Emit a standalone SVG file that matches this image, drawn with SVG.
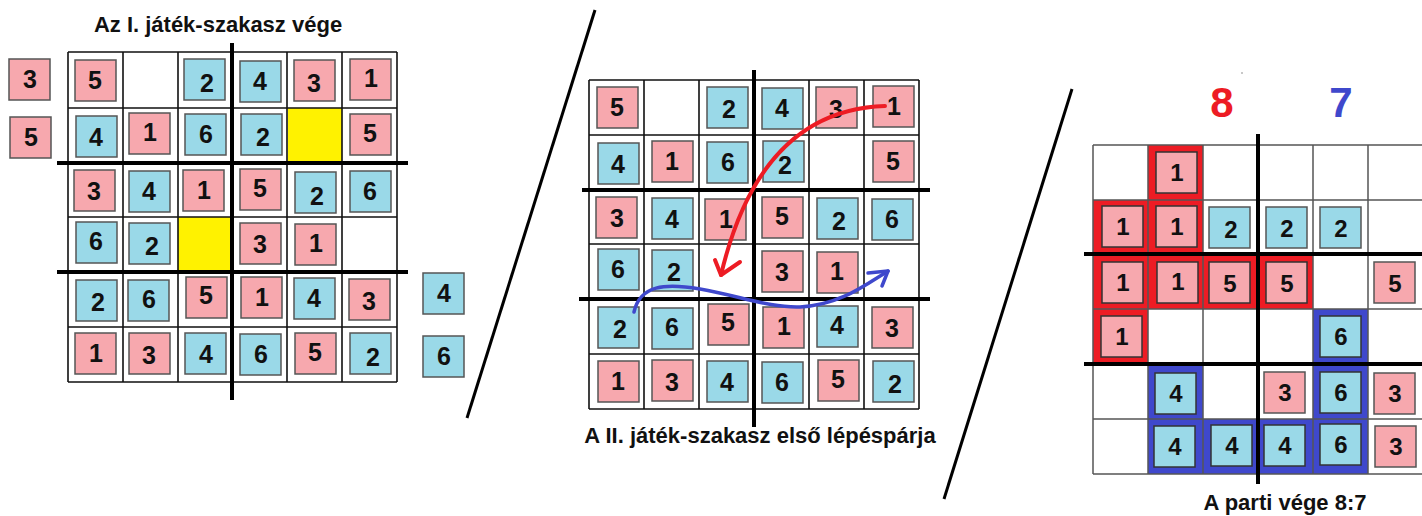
<svg xmlns="http://www.w3.org/2000/svg" width="1422" height="516" viewBox="0 0 1422 516">
<style>
.p{fill:#F7A8AE;stroke:#555;stroke-width:1.5}
.b{fill:#9AD9E8;stroke:#555;stroke-width:1.5}
.n{font-family:"Liberation Sans",Arial,sans-serif;font-weight:bold;font-size:25px;text-anchor:middle;fill:#111}
.m{font-size:24px}
.cap{font-family:"Liberation Sans",Arial,sans-serif;font-weight:bold;font-size:22px;text-anchor:middle;fill:#111}
.thin{stroke:#111;stroke-width:1.6;fill:none}
.thing{stroke:#555;stroke-width:1.5;fill:none}
.thick{stroke:#000;stroke-width:4;fill:none}
.diag{stroke:#000;stroke-width:3;fill:none}
.rc{fill:#ED1C24}
.bc{fill:#3F48CC}
.tr{stroke:#333}
</style>
<rect width="1422" height="516" fill="#fff"/>

<!-- LEFT BOARD -->
<g id="board1">
<text class="cap" x="218" y="32">Az I. játék-szakasz vége</text>
<rect x="288" y="108" width="54" height="55" fill="#FFF200"/>
<rect x="178" y="217" width="54" height="55" fill="#FFF200"/>
<path class="thin" d="M68,52V382M123,52V382M178,52V382M287,52V382M342,52V382M397,52V382M68,52H397M68,108H397M68,217H397M68,327H397M68,382H397"/>
<path class="thick" d="M232,43V400M57,163H408M57,272H408"/>
</g>
<g id="b1-side">
<g id="s1"><rect class="p" x="9" y="59" width="41" height="41"/><text class="n" x="30" y="88">3</text></g>
<g id="s2"><rect class="p" x="10" y="117" width="41" height="41"/><text class="n" x="31" y="146">5</text></g>
<g id="s3"><rect class="b" x="423" y="273" width="41" height="41"/><text class="n" x="444" y="302">4</text></g>
<g id="s4"><rect class="b" x="423" y="336" width="41" height="41"/><text class="n" x="444" y="365">6</text></g>
</g>
<g id="b1-tiles">
<g id="a00"><rect class="p" x="75" y="60" width="41" height="41"/><text class="n" x="95" y="89">5</text></g>
<g id="a02"><rect class="b" x="184" y="59" width="41" height="41"/><text class="n" x="207" y="92">2</text></g>
<g id="a03"><rect class="b" x="240" y="61" width="41" height="41"/><text class="n" x="260" y="90">4</text></g>
<g id="a04"><rect class="p" x="294" y="60" width="41" height="41"/><text class="n" x="314" y="92">3</text></g>
<g id="a05"><rect class="p" x="350" y="59" width="41" height="41"/><text class="n" x="371" y="87">1</text></g>
<g id="a10"><rect class="b" x="76" y="116" width="41" height="41"/><text class="n" x="96" y="146">4</text></g>
<g id="a11"><rect class="p" x="129" y="113" width="41" height="41"/><text class="n" x="150" y="141">1</text></g>
<g id="a12"><rect class="b" x="185" y="114" width="41" height="41"/><text class="n" x="206" y="143">6</text></g>
<g id="a13"><rect class="b" x="241" y="114" width="41" height="41"/><text class="n" x="263" y="146">2</text></g>
<g id="a15"><rect class="p" x="350" y="114" width="41" height="41"/><text class="n" x="370" y="142">5</text></g>
<g id="a20"><rect class="p" x="74" y="170" width="41" height="41"/><text class="n" x="94" y="200">3</text></g>
<g id="a21"><rect class="b" x="129" y="171" width="41" height="41"/><text class="n" x="149" y="200">4</text></g>
<g id="a22"><rect class="p" x="183" y="170" width="41" height="41"/><text class="n" x="204" y="199">1</text></g>
<g id="a23"><rect class="p" x="240" y="169" width="41" height="41"/><text class="n" x="260" y="197">5</text></g>
<g id="a24"><rect class="b" x="295" y="172" width="41" height="41"/><text class="n" x="317" y="205">2</text></g>
<g id="a25"><rect class="b" x="350" y="171" width="41" height="41"/><text class="n" x="370" y="200">6</text></g>
<g id="a30"><rect class="b" x="76" y="222" width="41" height="41"/><text class="n" x="96" y="250">6</text></g>
<g id="a31"><rect class="b" x="129" y="223" width="41" height="41"/><text class="n" x="152" y="255">2</text></g>
<g id="a33"><rect class="p" x="240" y="223" width="41" height="41"/><text class="n" x="260" y="253">3</text></g>
<g id="a34"><rect class="p" x="295" y="224" width="41" height="41"/><text class="n" x="316" y="252">1</text></g>
<g id="a40"><rect class="b" x="76" y="280" width="41" height="41"/><text class="n" x="98" y="311">2</text></g>
<g id="a41"><rect class="b" x="128" y="280" width="41" height="41"/><text class="n" x="149" y="308">6</text></g>
<g id="a42"><rect class="p" x="186" y="277" width="41" height="41"/><text class="n" x="206" y="304">5</text></g>
<g id="a43"><rect class="p" x="241" y="277" width="41" height="41"/><text class="n" x="262" y="306">1</text></g>
<g id="a44"><rect class="b" x="294" y="278" width="41" height="41"/><text class="n" x="314" y="307">4</text></g>
<g id="a45"><rect class="p" x="349" y="279" width="41" height="41"/><text class="n" x="369" y="310">3</text></g>
<g id="a50"><rect class="p" x="75" y="333" width="41" height="41"/><text class="n" x="96" y="362">1</text></g>
<g id="a51"><rect class="p" x="129" y="333" width="41" height="41"/><text class="n" x="149" y="364">3</text></g>
<g id="a52"><rect class="b" x="185" y="333" width="41" height="41"/><text class="n" x="206" y="363">4</text></g>
<g id="a53"><rect class="b" x="240" y="334" width="41" height="41"/><text class="n" x="261" y="363">6</text></g>
<g id="a54"><rect class="p" x="295" y="333" width="41" height="41"/><text class="n" x="315" y="361">5</text></g>
<g id="a55"><rect class="b" x="350" y="333" width="41" height="41"/><text class="n" x="373" y="366">2</text></g>
</g>

<!-- DIVIDERS -->
<g id="dividers">
<path class="diag" d="M595,10L467,418"/>
<path class="diag" d="M1072,89L944,499"/>
</g>

<!-- MIDDLE BOARD -->
<g id="board2">
<path class="thin" d="M589,80V409M644,80V409M699,80V409M809,80V409M864,80V409M919,80V409M589,80H919M589,135H919M589,244H919M589,354H919M589,409H919"/>
<path class="thick" d="M754,70V427M582,190H930M579,299H930"/>
<text class="cap" x="760" y="443">A II. játék-szakasz első lépéspárja</text>
</g>
<g id="b2-tiles">
<g id="m00"><rect class="p" x="597" y="87" width="41" height="41"/><text class="n" x="617" y="116">5</text></g>
<g id="m02"><rect class="b" x="707" y="87" width="41" height="41"/><text class="n" x="729" y="118">2</text></g>
<g id="m03"><rect class="b" x="762" y="88" width="41" height="41"/><text class="n" x="782" y="117">4</text></g>
<g id="m04"><rect class="p" x="816" y="87" width="41" height="41"/><text class="n" x="836" y="118">3</text></g>
<g id="m05"><rect class="p" x="873" y="86" width="41" height="41"/><text class="n" x="894" y="115">1</text></g>
<g id="m10"><rect class="b" x="598" y="143" width="41" height="41"/><text class="n" x="618" y="173">4</text></g>
<g id="m11"><rect class="p" x="652" y="141" width="41" height="41"/><text class="n" x="672" y="170">1</text></g>
<g id="m12"><rect class="b" x="707" y="142" width="41" height="41"/><text class="n" x="728" y="171">6</text></g>
<g id="m13"><rect class="b" x="763" y="141" width="41" height="41"/><text class="n" x="785" y="174">2</text></g>
<g id="m15"><rect class="p" x="873" y="141" width="41" height="41"/><text class="n" x="893" y="170">5</text></g>
<g id="m20"><rect class="p" x="596" y="197" width="41" height="41"/><text class="n" x="617" y="227">3</text></g>
<g id="m21"><rect class="b" x="652" y="198" width="41" height="41"/><text class="n" x="672" y="228">4</text></g>
<g id="m22"><rect class="p" x="705" y="199" width="41" height="41"/><text class="n" x="726" y="228">1</text></g>
<g id="m23"><rect class="p" x="762" y="197" width="41" height="41"/><text class="n" x="782" y="225">5</text></g>
<g id="m24"><rect class="b" x="817" y="198" width="41" height="41"/><text class="n" x="839" y="230">2</text></g>
<g id="m25"><rect class="b" x="872" y="199" width="41" height="41"/><text class="n" x="892" y="228">6</text></g>
<g id="m30"><rect class="b" x="598" y="249" width="41" height="41"/><text class="n" x="618" y="278">6</text></g>
<g id="m31"><rect class="b" x="652" y="250" width="41" height="41"/><text class="n" x="674" y="281">2</text></g>
<g id="m33"><rect class="p" x="762" y="251" width="41" height="41"/><text class="n" x="782" y="281">3</text></g>
<g id="m34"><rect class="p" x="817" y="252" width="41" height="41"/><text class="n" x="837" y="280">1</text></g>
<g id="m40"><rect class="b" x="598" y="307" width="41" height="41"/><text class="n" x="620" y="338">2</text></g>
<g id="m41"><rect class="b" x="652" y="308" width="41" height="41"/><text class="n" x="672" y="336">6</text></g>
<g id="m42"><rect class="p" x="708" y="304" width="41" height="41"/><text class="n" x="728" y="331">5</text></g>
<g id="m43"><rect class="p" x="763" y="307" width="41" height="41"/><text class="n" x="784" y="335">1</text></g>
<g id="m44"><rect class="b" x="817" y="306" width="41" height="41"/><text class="n" x="837" y="334">4</text></g>
<g id="m45"><rect class="p" x="872" y="307" width="41" height="41"/><text class="n" x="892" y="337">3</text></g>
<g id="m50"><rect class="p" x="598" y="361" width="41" height="41"/><text class="n" x="618" y="390">1</text></g>
<g id="m51"><rect class="p" x="652" y="360" width="41" height="41"/><text class="n" x="672" y="391">3</text></g>
<g id="m52"><rect class="b" x="707" y="361" width="41" height="41"/><text class="n" x="727" y="391">4</text></g>
<g id="m53"><rect class="b" x="762" y="362" width="41" height="41"/><text class="n" x="782" y="391">6</text></g>
<g id="m54"><rect class="p" x="818" y="360" width="41" height="41"/><text class="n" x="838" y="388">5</text></g>
<g id="m55"><rect class="b" x="873" y="361" width="41" height="41"/><text class="n" x="895" y="393">2</text></g>
</g>

<!-- MOVE ARROWS -->
<g id="connectors" fill="none" stroke-linecap="round" stroke-linejoin="round">
<path d="M885,106Q760,110 721,275" stroke="#ED1C24" stroke-width="4"/>
<path d="M715,260L721,275L740,262" stroke="#ED1C24" stroke-width="4"/>
<path d="M634,312C640,285 665,283 700,289C740,296 770,308 800,307C840,305 865,285 888,271" stroke="#3F48CC" stroke-width="3.5"/>
<path d="M868,273L888,271L882,286" stroke="#3F48CC" stroke-width="3.5"/>
</g>

<!-- RIGHT BOARD -->
<g id="board3">
<text x="1222" y="117" font-family="Liberation Sans, Arial, sans-serif" font-weight="bold" font-size="42" text-anchor="middle" fill="#ED1C24">8</text>
<text x="1341" y="117" font-family="Liberation Sans, Arial, sans-serif" font-weight="bold" font-size="42" text-anchor="middle" fill="#3F48CC">7</text>
<circle cx="1242" cy="73" r="0.7" fill="#666"/>
<rect class="rc" x="1148" y="145" width="55" height="55"/>
<rect class="rc" x="1093" y="200" width="110" height="54"/>
<rect class="rc" x="1093" y="254" width="220" height="55"/>
<rect class="rc" x="1093" y="309" width="55" height="55"/>
<rect class="bc" x="1313" y="309" width="55" height="165"/>
<rect class="bc" x="1148" y="364" width="55" height="55"/>
<rect class="bc" x="1148" y="419" width="165" height="55"/>
<path class="thing" d="M1093,145V474M1148,145V474M1203,145V474M1313,145V474M1368,145V474M1093,145H1422M1093,200H1422M1093,309H1422M1093,419H1422M1093,474H1422"/>
<path class="thick" d="M1258,134V484M1084,254H1422M1084,364H1422"/>
<text class="cap" x="1285" y="510">A parti vége 8:7</text>
</g>
<g id="b3-tiles">
<g id="r01"><rect class="p tr" x="1156" y="152" width="41" height="41"/><text class="n m" x="1177" y="181">1</text></g>
<g id="r10"><rect class="p tr" x="1102" y="206" width="41" height="41"/><text class="n m" x="1123" y="235">1</text></g>
<g id="r11"><rect class="p tr" x="1156" y="206" width="41" height="41"/><text class="n m" x="1177" y="235">1</text></g>
<g id="r12"><rect class="b" x="1209" y="207" width="41" height="41"/><text class="n m" x="1231" y="238">2</text></g>
<g id="r13"><rect class="b" x="1266" y="207" width="41" height="41"/><text class="n m" x="1287" y="237">2</text></g>
<g id="r14"><rect class="b" x="1320" y="207" width="41" height="41"/><text class="n m" x="1341" y="237">2</text></g>
<g id="r20"><rect class="p tr" x="1102" y="262" width="41" height="41"/><text class="n m" x="1123" y="291">1</text></g>
<g id="r21"><rect class="p tr" x="1157" y="262" width="41" height="41"/><text class="n m" x="1178" y="290">1</text></g>
<g id="r22"><rect class="p tr" x="1209" y="262" width="41" height="41"/><text class="n m" x="1230" y="292">5</text></g>
<g id="r23"><rect class="p tr" x="1266" y="262" width="41" height="41"/><text class="n m" x="1287" y="292">5</text></g>
<g id="r25"><rect class="p" x="1374" y="262" width="41" height="41"/><text class="n m" x="1395" y="292">5</text></g>
<g id="r30"><rect class="p tr" x="1101" y="316" width="41" height="41"/><text class="n m" x="1122" y="345">1</text></g>
<g id="r34"><rect class="b tr" x="1320" y="316" width="41" height="41"/><text class="n m" x="1341" y="345">6</text></g>
<g id="r41"><rect class="b tr" x="1155" y="373" width="41" height="41"/><text class="n m" x="1176" y="402">4</text></g>
<g id="r43"><rect class="p" x="1264" y="372" width="41" height="41"/><text class="n m" x="1285" y="401">3</text></g>
<g id="r44"><rect class="b tr" x="1320" y="372" width="41" height="41"/><text class="n m" x="1341" y="401">6</text></g>
<g id="r45"><rect class="p" x="1374" y="373" width="41" height="41"/><text class="n m" x="1395" y="402">3</text></g>
<g id="r51"><rect class="b tr" x="1154" y="426" width="41" height="41"/><text class="n m" x="1175" y="455">4</text></g>
<g id="r52"><rect class="b tr" x="1211" y="425" width="41" height="41"/><text class="n m" x="1232" y="454">4</text></g>
<g id="r53"><rect class="b tr" x="1264" y="425" width="41" height="41"/><text class="n m" x="1285" y="454">4</text></g>
<g id="r54"><rect class="b tr" x="1320" y="424" width="41" height="41"/><text class="n m" x="1341" y="453">6</text></g>
<g id="r55"><rect class="p" x="1375" y="426" width="41" height="41"/><text class="n m" x="1396" y="455">3</text></g>
</g>
</svg>
